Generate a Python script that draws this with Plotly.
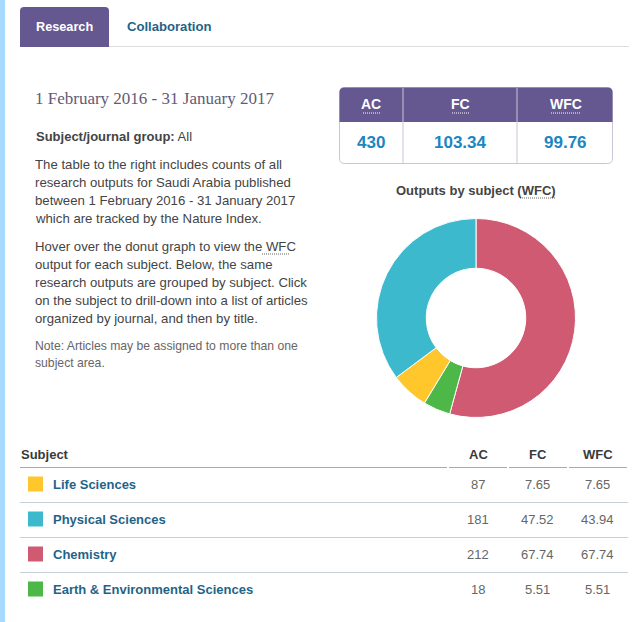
import plotly.graph_objects as go

W, H = 639, 622

# data
subjects = ["Life Sciences", "Physical Sciences", "Chemistry", "Earth & Environmental Sciences"]
ac = [87, 181, 212, 18]
fc = ["7.65", "47.52", "67.74", "5.51"]
wfc = ["7.65", "43.94", "67.74", "5.51"]
donut_values = [67.74, 5.51, 7.65, 43.94]
donut_labels = ["Chemistry", "Earth & Environmental Sciences", "Life Sciences", "Physical Sciences"]
donut_colors = ["#CF5A72", "#4DB848", "#FFC72C", "#3CB9CC"]
subject_colors = ["#FFC72C", "#3CB9CC", "#CF5A72", "#4DB848"]
totals = ["430", "103.34", "99.76"]
total_headers = ["AC", "FC", "WFC"]
tab_labels = ["Research", "Collaboration"]
para_lines = [
    "The table to the right includes counts of all",
    "research outputs for Saudi Arabia published",
    "between 1 February 2016 - 31 January 2017",
    "which are tracked by the Nature Index.",
]
para2_lines = [
    "Hover over the donut graph to view the WFC",
    "output for each subject. Below, the same",
    "research outputs are grouped by subject. Click",
    "on the subject to drill-down into a list of articles",
    "organized by journal, and then by title.",
]
note_lines = ["Note: Articles may be assigned to more than one", "subject area."]

SANS = "Liberation Sans, Arial, sans-serif"
SERIF = "Liberation Serif, Times New Roman, serif"
PURPLE = "#655890"
TEAL = "#1F6488"
px = lambda x: x / W
py = lambda y: 1 - y / H

shapes, ann = [], []


def text(x, y, s, size=13.2, color="#444444", anchor="left", font=SANS):
    if anchor == "left":
        x -= 2
    ann.append(dict(x=px(x), y=py(y), xref="paper", yref="paper", text=s, showarrow=False,
                    xanchor=anchor, yanchor="middle", align=anchor, borderpad=0,
                    font=dict(family=font, size=size, color=color)))


def rect(x0, y0, x1, y1, fill):
    shapes.append(dict(type="rect", xref="paper", yref="paper", x0=px(x0), x1=px(x1), y0=py(y0), y1=py(y1),
                       fillcolor=fill, line=dict(width=0), layer="below"))


def hline(x0, x1, y, color, width=1, dash="solid"):
    shapes.append(dict(type="line", xref="paper", yref="paper", x0=px(x0), x1=px(x1), y0=py(y), y1=py(y),
                       line=dict(color=color, width=width, dash=dash)))


def vline(x, y0, y1, color, width=1):
    shapes.append(dict(type="line", xref="paper", yref="paper", x0=px(x), x1=px(x), y0=py(y0), y1=py(y1),
                       line=dict(color=color, width=width)))


def rounded(x0, y0, x1, y1, tl, tr, br, bl, fill=None, stroke=None):
    k = lambda a, b: f"{px(a):.5f},{py(b):.5f}"
    d = (f"M{k(x0 + tl, y0)} L{k(x1 - tr, y0)} Q{k(x1, y0)} {k(x1, y0 + tr)} L{k(x1, y1 - br)} "
         f"Q{k(x1, y1)} {k(x1 - br, y1)} L{k(x0 + bl, y1)} Q{k(x0, y1)} {k(x0, y1 - bl)} "
         f"L{k(x0, y0 + tl)} Q{k(x0, y0)} {k(x0 + tl, y0)} Z")
    shapes.append(dict(type="path", xref="paper", yref="paper", path=d, fillcolor=fill or "rgba(0,0,0,0)",
                       line=dict(color=stroke or "rgba(0,0,0,0)", width=1 if stroke else 0)))


# page strip and tabs
rect(0, 0, 5, H, "#A6D9FC")
hline(20, 629, 46.5, "#DDDDDD")
rounded(20, 7, 109, 47, 4, 4, 0, 0, fill=PURPLE)
text(37, 27, f"<b>{tab_labels[0]}</b>", 12.7, "#FFFFFF")
text(128, 26.5, f"<b>{tab_labels[1]}</b>", 13.1, TEAL)

# left column
text(36, 98.5, "1 February 2016 - 31 January 2017", 17, "#5F5B78", font=SERIF)
text(37, 136.5, "<b>Subject/journal group:</b> All", 13, "#444444")
for i, line in enumerate(para_lines):
    text(36, 164.5 + i * 18, line)
for i, line in enumerate(para2_lines):
    text(36, 246 + i * 18.1, line)
for i, line in enumerate(note_lines):
    text(36, 346 + i * 17, line, 12.2, "#666666")

# totals box
rounded(339.5, 87.5, 612.5, 163.5, 5, 5, 5, 5, stroke="#C9C5D6")
rounded(339.5, 87.5, 612.5, 122, 5, 5, 0, 0, fill=PURPLE)
for x in (403, 517):
    vline(x, 88, 163, "#C9C5D6")
centers = [371.5, 460.5, 565.5]
ulines = [(363, 381), (452, 469), (551, 580)]
for cx, hd, val, (u0, u1) in zip(centers, total_headers, totals, ulines):
    text(cx, 104, f"<b>{hd}</b>", 14, "#FFFFFF", "center")
    hline(u0, u1, 113, "#FFFFFF", 1, "1px,1px")
    text(cx, 142.5, f"<b>{val}</b>", 17, "#1C86C0", "center")

text(476, 190.5, "<b>Outputs by subject (WFC)</b>", 13, "#444444", "center")
hline(520, 555, 198, "#666666", 1, "1px,1px")
hline(262, 289, 254, "#666666", 1, "1px,1px")

# table
hline(20, 447, 467.5, "#AAAAAA")
hline(449, 507, 467.5, "#AAAAAA")
hline(509, 567, 467.5, "#AAAAAA")
hline(569, 627, 467.5, "#AAAAAA")
text(22, 454.5, "<b>Subject</b>", 13, "#3A3A3A")
col_x = [478, 537.5, 597.5]
for cx, hd in zip(col_x, total_headers):
    text(cx, 454.5, f"<b>{hd}</b>", 13, "#3A3A3A", "center")
for i, (s, c, a, f, w) in enumerate(zip(subjects, subject_colors, ac, fc, wfc)):
    y = 484.5 + i * 35
    rect(28, y - 8, 43, y + 7, c)
    text(54, y - 0.5, f"<b>{s}</b>", 13, TEAL)
    text(col_x[0], y, str(a), 13, "#666666", "center")
    text(col_x[1], y, f, 13, "#666666", "center")
    text(col_x[2], y, w, 13, "#666666", "center")
    if i < 3:
        hline(20, 628, y + 18, "#C5D0D8")

fig = go.Figure(go.Pie(
    values=donut_values, labels=donut_labels, hole=0.5, sort=False, direction="clockwise", rotation=0,
    marker=dict(colors=donut_colors, line=dict(color="#FFFFFF", width=1)),
    textinfo="none", showlegend=False,
    domain=dict(x=[px(376.5), px(575.5)], y=[py(417.5), py(218.5)]),
))
fig.update_layout(width=W, height=H, margin=dict(l=0, r=0, t=0, b=0), paper_bgcolor="#FFFFFF",
                  plot_bgcolor="#FFFFFF", shapes=shapes, annotations=ann, showlegend=False)
fig.write_html("out.html", config=dict(displayModeBar=False),
               post_script="document.body.style.margin='0';document.body.style.overflow='hidden';")
